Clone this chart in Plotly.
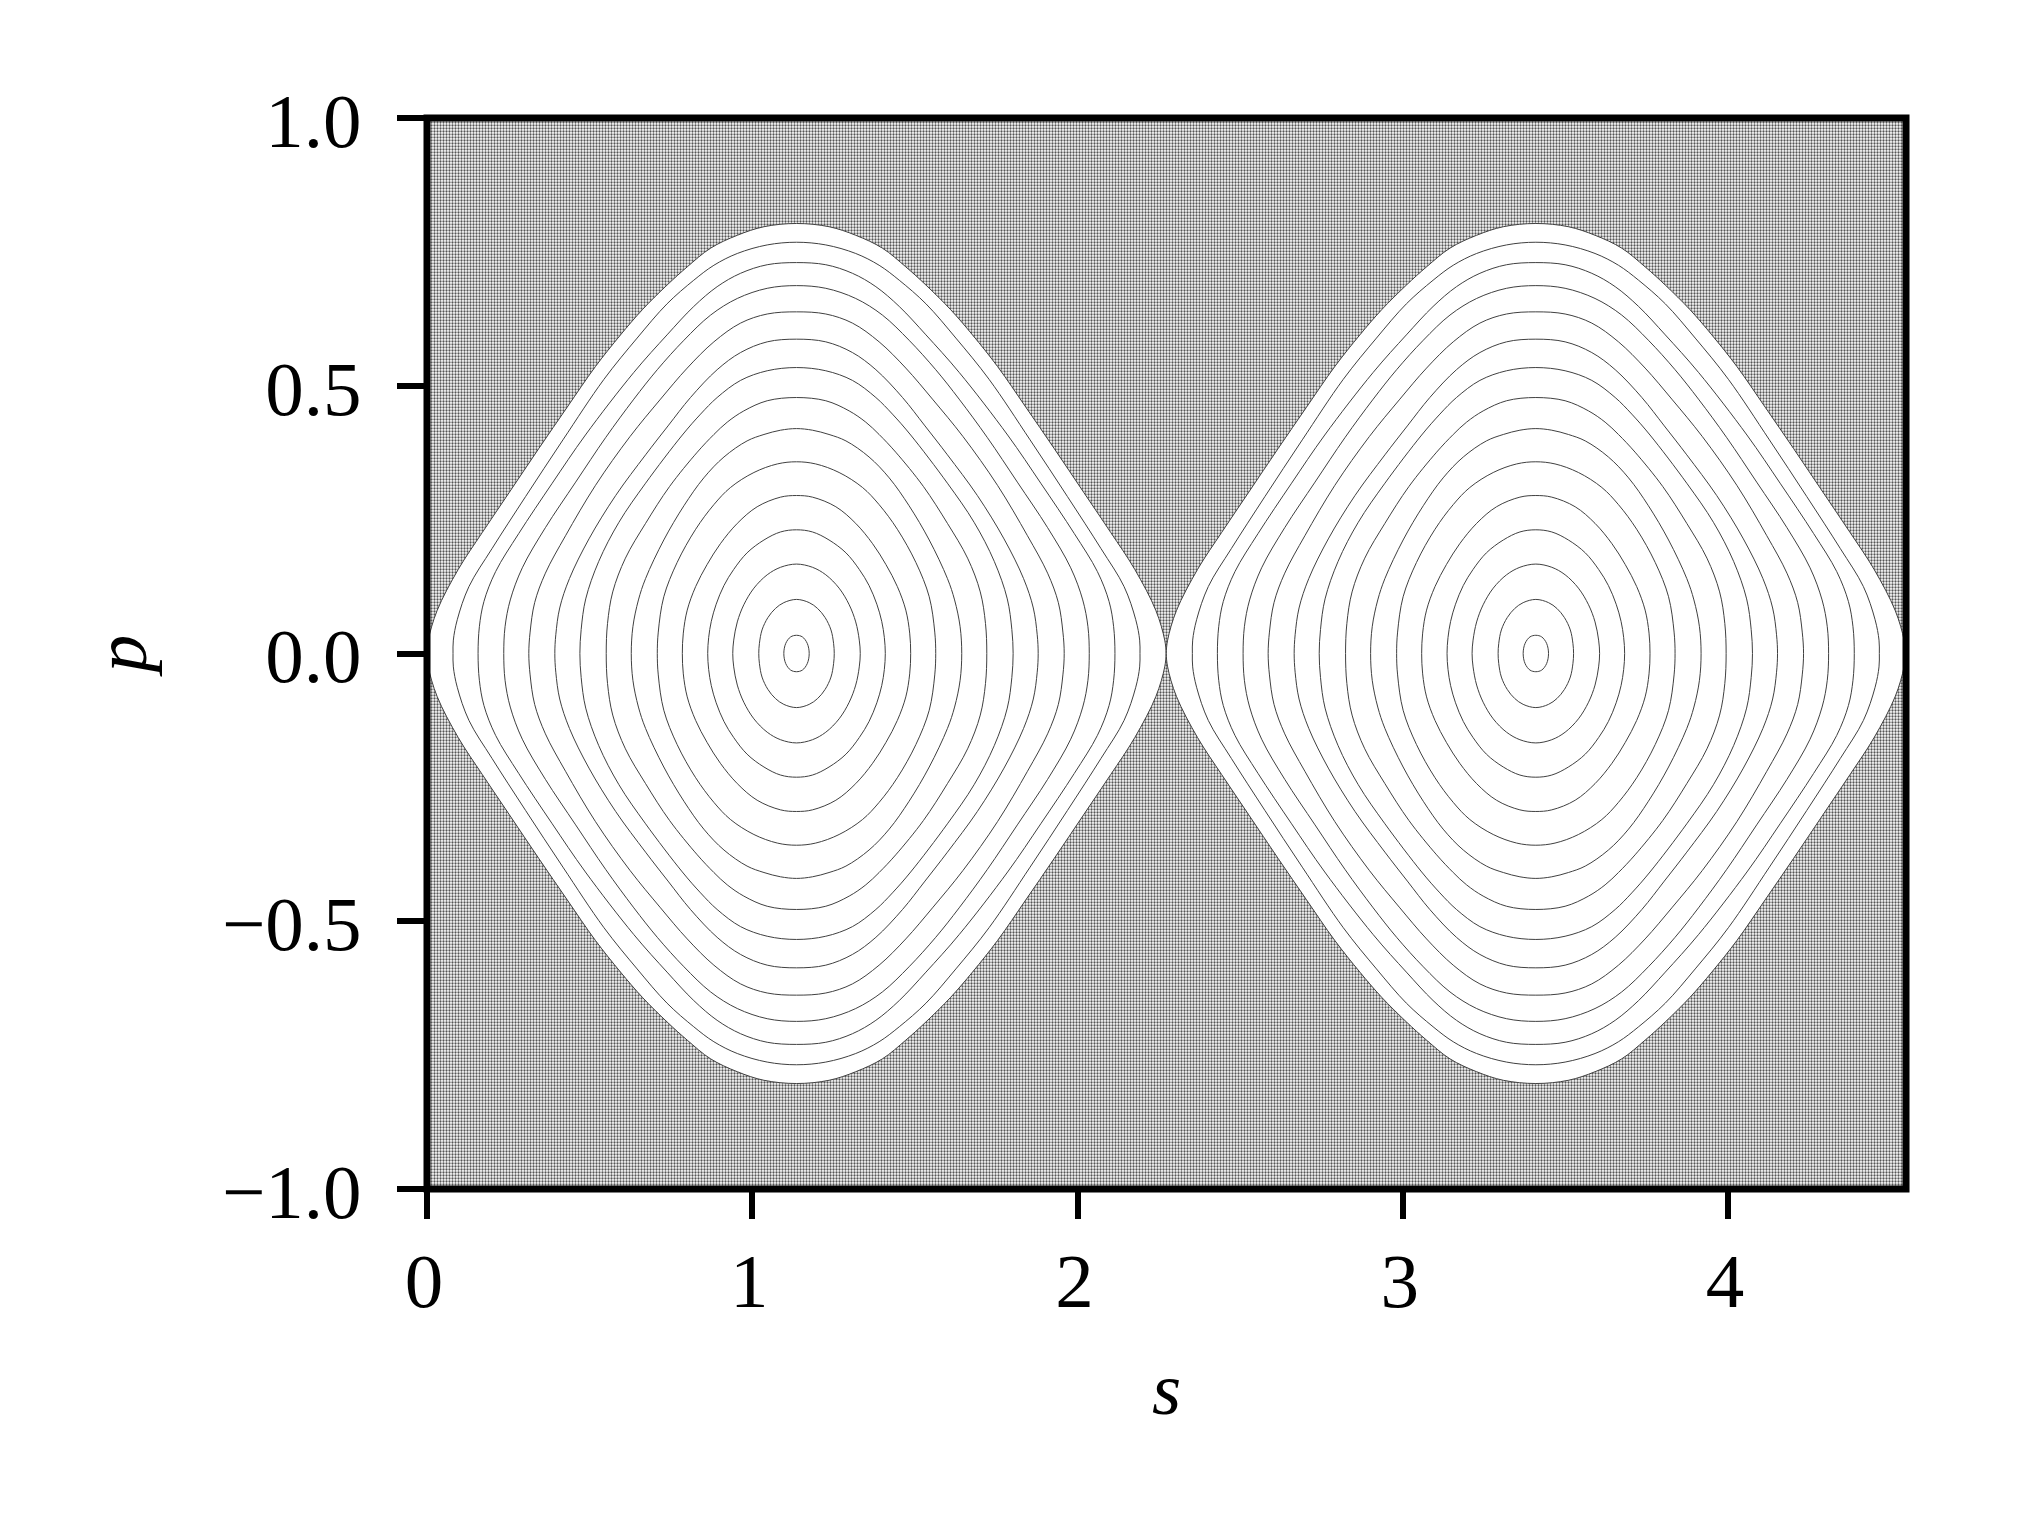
""" Phase space of the billiard: chaotic sea with two islands of regular orbits """
import plotly.graph_objects as go

# Corners of the chaotic sea (the whole plotted range)
SEA_S = [0, 4.547, 4.547, 0, 0]
SEA_P = [-1, -1, 1, 1, -1]

# Centres of the two islands, on the s axis
ISLAND_S = [1.136, 3.409]

# One quarter of each closed orbit: distance to the island centre and p
# The first one is the separatrix, the edge of the sea
RING_DS = [
    [1.136, 1.132, 1.105, 1.040, 0.966, 0.884, 0.792, 0.705, 0.618, 0.541, 0.474, 0.398, 0.336, 0.264, 0.182, 0.100, 0],
    [1.056, 1.055, 1.043, 1.007, 0.936, 0.833, 0.718, 0.592, 0.490, 0.398, 0.316, 0.254, 0.182, 0.090, 0],
    [0.979, 0.975, 0.961, 0.925, 0.854, 0.751, 0.649, 0.500, 0.398, 0.316, 0.244, 0.172, 0.090, 0],
    [0.900, 0.896, 0.880, 0.843, 0.772, 0.679, 0.587, 0.500, 0.428, 0.346, 0.264, 0.182, 0.090, 0],
    [0.823, 0.819, 0.805, 0.772, 0.710, 0.618, 0.512, 0.418, 0.336, 0.254, 0.172, 0.090, 0],
    [0.743, 0.740, 0.728, 0.698, 0.638, 0.556, 0.464, 0.395, 0.326, 0.244, 0.172, 0.090, 0],
    [0.666, 0.662, 0.648, 0.608, 0.546, 0.464, 0.351, 0.295, 0.244, 0.172, 0.090, 0],
    [0.585, 0.581, 0.565, 0.526, 0.464, 0.390, 0.305, 0.254, 0.213, 0.162, 0.090, 0],
    [0.508, 0.503, 0.486, 0.464, 0.408, 0.346, 0.285, 0.223, 0.152, 0.100, 0.049, 0],
    [0.428, 0.425, 0.408, 0.367, 0.310, 0.254, 0.203, 0.131, 0.059, 0],
    [0.351, 0.348, 0.336, 0.310, 0.275, 0.234, 0.182, 0.121, 0.049, 0],
    [0.273, 0.270, 0.262, 0.247, 0.223, 0.193, 0.152, 0.100, 0.049, 0],
    [0.196, 0.193, 0.182, 0.162, 0.131, 0.090, 0.049, 0],
    [0.116, 0.114, 0.106, 0.088, 0.065, 0.039, 0],
    [0.039, 0.033, 0.018, 0],
]
RING_P = [
    [0, 0.025, 0.080, 0.157, 0.226, 0.300, 0.383, 0.460, 0.536, 0.595, 0.642, 0.688, 0.722, 0.757, 0.781, 0.797, 0.803],
    [0, 0.025, 0.063, 0.125, 0.196, 0.293, 0.399, 0.512, 0.589, 0.653, 0.697, 0.725, 0.747, 0.763, 0.768],
    [0, 0.050, 0.097, 0.153, 0.224, 0.318, 0.408, 0.525, 0.595, 0.648, 0.685, 0.710, 0.726, 0.730],
    [0, 0.050, 0.100, 0.160, 0.235, 0.320, 0.403, 0.475, 0.530, 0.585, 0.632, 0.663, 0.682, 0.687],
    [0, 0.040, 0.095, 0.150, 0.220, 0.314, 0.405, 0.475, 0.533, 0.582, 0.617, 0.634, 0.638],
    [0, 0.035, 0.085, 0.140, 0.214, 0.295, 0.371, 0.425, 0.478, 0.530, 0.562, 0.582, 0.587],
    [0, 0.045, 0.102, 0.172, 0.245, 0.318, 0.408, 0.447, 0.478, 0.510, 0.528, 0.534],
    [0, 0.056, 0.115, 0.178, 0.243, 0.312, 0.376, 0.409, 0.432, 0.453, 0.472, 0.478],
    [0, 0.050, 0.100, 0.140, 0.212, 0.276, 0.328, 0.367, 0.397, 0.409, 0.417, 0.420],
    [0, 0.040, 0.106, 0.170, 0.232, 0.278, 0.310, 0.338, 0.354, 0.358],
    [0, 0.038, 0.081, 0.125, 0.166, 0.205, 0.243, 0.274, 0.292, 0.295],
    [0, 0.030, 0.060, 0.092, 0.127, 0.157, 0.188, 0.212, 0.227, 0.231],
    [0, 0.025, 0.059, 0.091, 0.122, 0.147, 0.161, 0.167],
    [0, 0.019, 0.044, 0.067, 0.084, 0.095, 0.101],
    [0, 0.019, 0.031, 0.034],
]

S_TICKS = [0, 1, 2, 3, 4]
P_TICKS = [-1.0, -0.5, 0.0, 0.5, 1.0]
P_TICK_TEXT = ['\u22121.0', '\u22120.5', '0.0', '0.5', '1.0']

FONT = 'Liberation Serif'
SEA_GRAY = '#555555'
LINE_GRAY = '#404040'


def closed_orbit(center, d_s, p):
    """ Mirror a quarter orbit into a closed loop around the island centre """
    left_up = [(center - d, v) for d, v in zip(d_s, p)]
    right_up = [(center + d, v) for d, v in zip(d_s[-2::-1], p[-2::-1])]
    right_down = [(center + d, -v) for d, v in zip(d_s[1:], p[1:])]
    left_down = [(center - d, -v) for d, v in zip(d_s[-2::-1], p[-2::-1])]
    points = left_up + right_up + right_down + left_down
    return [pt[0] for pt in points], [pt[1] for pt in points]


fig = go.Figure()

# The sea first, everything else goes on top of it
fig.add_trace(go.Scatter(
    x=SEA_S, y=SEA_P,
    mode='lines',
    line={'width': 0},
    fill='toself',
    fillpattern={'shape': '.', 'size': 3, 'solidity': 0.45,
                 'fgcolor': SEA_GRAY, 'bgcolor': 'white', 'fillmode': 'replace'},
    hoverinfo='skip',
))

for center in ISLAND_S:
    for i, (d_s, p) in enumerate(zip(RING_DS, RING_P)):
        xs, ys = closed_orbit(center, d_s, p)
        fig.add_trace(go.Scatter(
            x=xs, y=ys,
            mode='lines',
            line={'color': LINE_GRAY, 'width': 1, 'shape': 'spline', 'smoothing': 1},
            fill='toself' if i == 0 else 'none',
            fillcolor='white',
            hoverinfo='skip',
        ))

fig.update_layout(
    width=2025,
    height=1518,
    margin={'l': 427, 'r': 119, 't': 118, 'b': 329},
    paper_bgcolor='white',
    plot_bgcolor='white',
    showlegend=False,
    font={'family': FONT, 'color': 'black'},
    xaxis={
        'range': [0, 4.547],
        'tickvals': S_TICKS,
        'ticks': 'outside', 'ticklen': 29, 'tickwidth': 6, 'tickcolor': 'black',
        'tickfont': {'size': 77},
        'ticklabelstandoff': -4,
        'ticklabelshift': -3,
        'showgrid': False, 'zeroline': False, 'showline': False,
        'title': {'text': '<i>s</i>', 'font': {'size': 75}, 'standoff': 38},
    },
    yaxis={
        'range': [-1, 1],
        'tickvals': P_TICKS,
        'ticktext': P_TICK_TEXT,
        'ticks': 'outside', 'ticklen': 29, 'tickwidth': 6, 'tickcolor': 'black',
        'tickfont': {'size': 77},
        'ticklabelstandoff': 20,
        'ticklabelshift': 2,
        'showgrid': False, 'zeroline': False, 'showline': False,
        'title': {'text': '<i>p</i>', 'font': {'size': 75}, 'standoff': 50},
    },
    # Frame centred on the plot edges, so the ticks at 0 line up with it
    shapes=[{'type': 'rect', 'xref': 'paper', 'yref': 'paper', 'x0': 0, 'x1': 1, 'y0': 0, 'y1': 1,
             'line': {'color': 'black', 'width': 7}, 'layer': 'above'}],
)

# The page margin would push the chart off its place
fig.write_html("out.html", config={'displayModeBar': False},
               post_script="document.body.style.margin = '0';")
